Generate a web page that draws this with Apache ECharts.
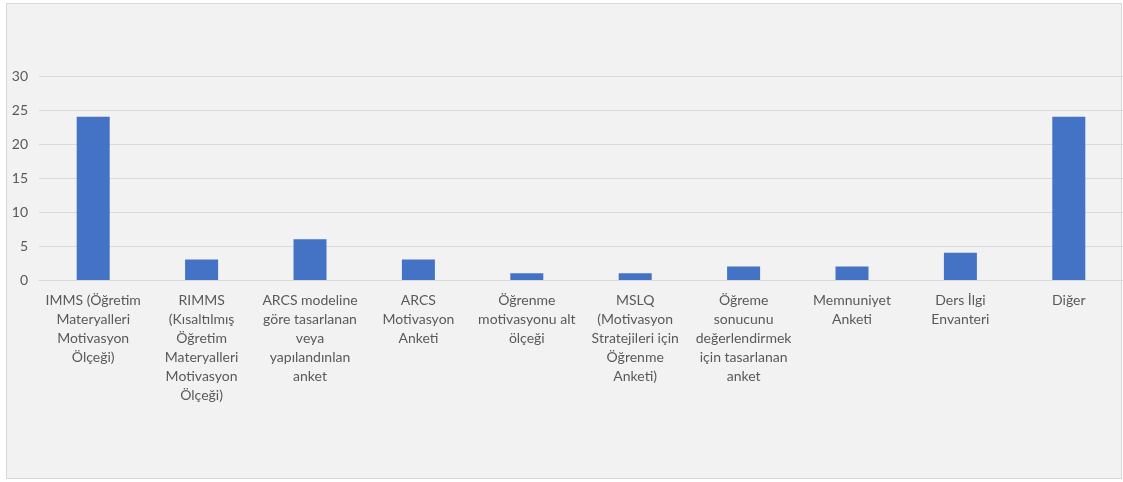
<!DOCTYPE html>
<html style="height: 100%">
   <head>
       <meta charset="utf-8">
   </head>
   <body style="height: 100%; margin: 0; background: #fff">
       <div class="frame"></div>
       <div id="container" style="position: absolute; left: 0; top: 0; width: 1123px; height: 482px"></div>
       <style>
            .frame {
                position: absolute;
                left: 6px;
                top: 3px;
                width: 1114px;
                height: 474px;
                border: 1px solid #d9d9d9;
                background-color: #f2f2f2;
            }
       </style>
       <script type="text/javascript" src="https://cdn.jsdelivr.net/npm/echarts@6/dist/echarts.min.js"></script>
       <script type="text/javascript">
            var categories = [
                'IMMS (Öğretim\nMateryalleri\nMotivasyon\nÖlçeği)',
                'RIMMS\n(Kısaltılmış\nÖğretim\nMateryalleri\nMotivasyon\nÖlçeği)',
                'ARCS modeline\ngöre tasarlanan\nveya\nyapılandınlan\nanket',
                'ARCS\nMotivasyon\nAnketi',
                'Öğrenme\nmotivasyonu alt\nölçeği',
                'MSLQ\n(Motivasyon\nStratejileri için\nÖğrenme\nAnketi)',
                'Öğreme\nsonucunu\ndeğerlendirmek\niçin tasarlanan\nanket',
                'Memnuniyet\nAnketi',
                'Ders İlgi\nEnvanteri',
                'Diğer'
            ];
            var counts = [24, 3, 6, 3, 1, 1, 2, 2, 4, 24];
            var yTicks = { min: 0, max: 30, step: 5 };

            var dom = document.getElementById("container");
            var myChart = echarts.init(dom);
            var option = {
                animation: false,
                grid: {
                    top: 76,
                    left: 39,
                    right: 0,
                    bottom: 202
                },
                xAxis: {
                    type: 'category',
                    data: categories,
                    axisLine: {
                        lineStyle: { color: '#d9d9d9', width: 1 }
                    },
                    axisTick: { show: false },
                    axisLabel: {
                        interval: 0,
                        margin: 11,
                        fontFamily: 'Lato',
                        fontSize: 14,
                        lineHeight: 19,
                        color: '#595959'
                    }
                },
                yAxis: {
                    type: 'value',
                    min: yTicks.min,
                    max: yTicks.max,
                    interval: yTicks.step,
                    axisLine: { show: false },
                    axisTick: { show: false },
                    axisLabel: {
                        margin: 11,
                        fontFamily: 'Lato',
                        fontSize: 14,
                        color: '#595959'
                    },
                    splitLine: {
                        lineStyle: { color: '#d9d9d9', width: 1 }
                    }
                },
                series: [
                    {
                        type: 'bar',
                        data: counts,
                        barWidth: 33,
                        itemStyle: { color: '#4472c4' }
                    }
                ]
            };
            myChart.setOption(option, true);
       </script>
   </body>
</html>
